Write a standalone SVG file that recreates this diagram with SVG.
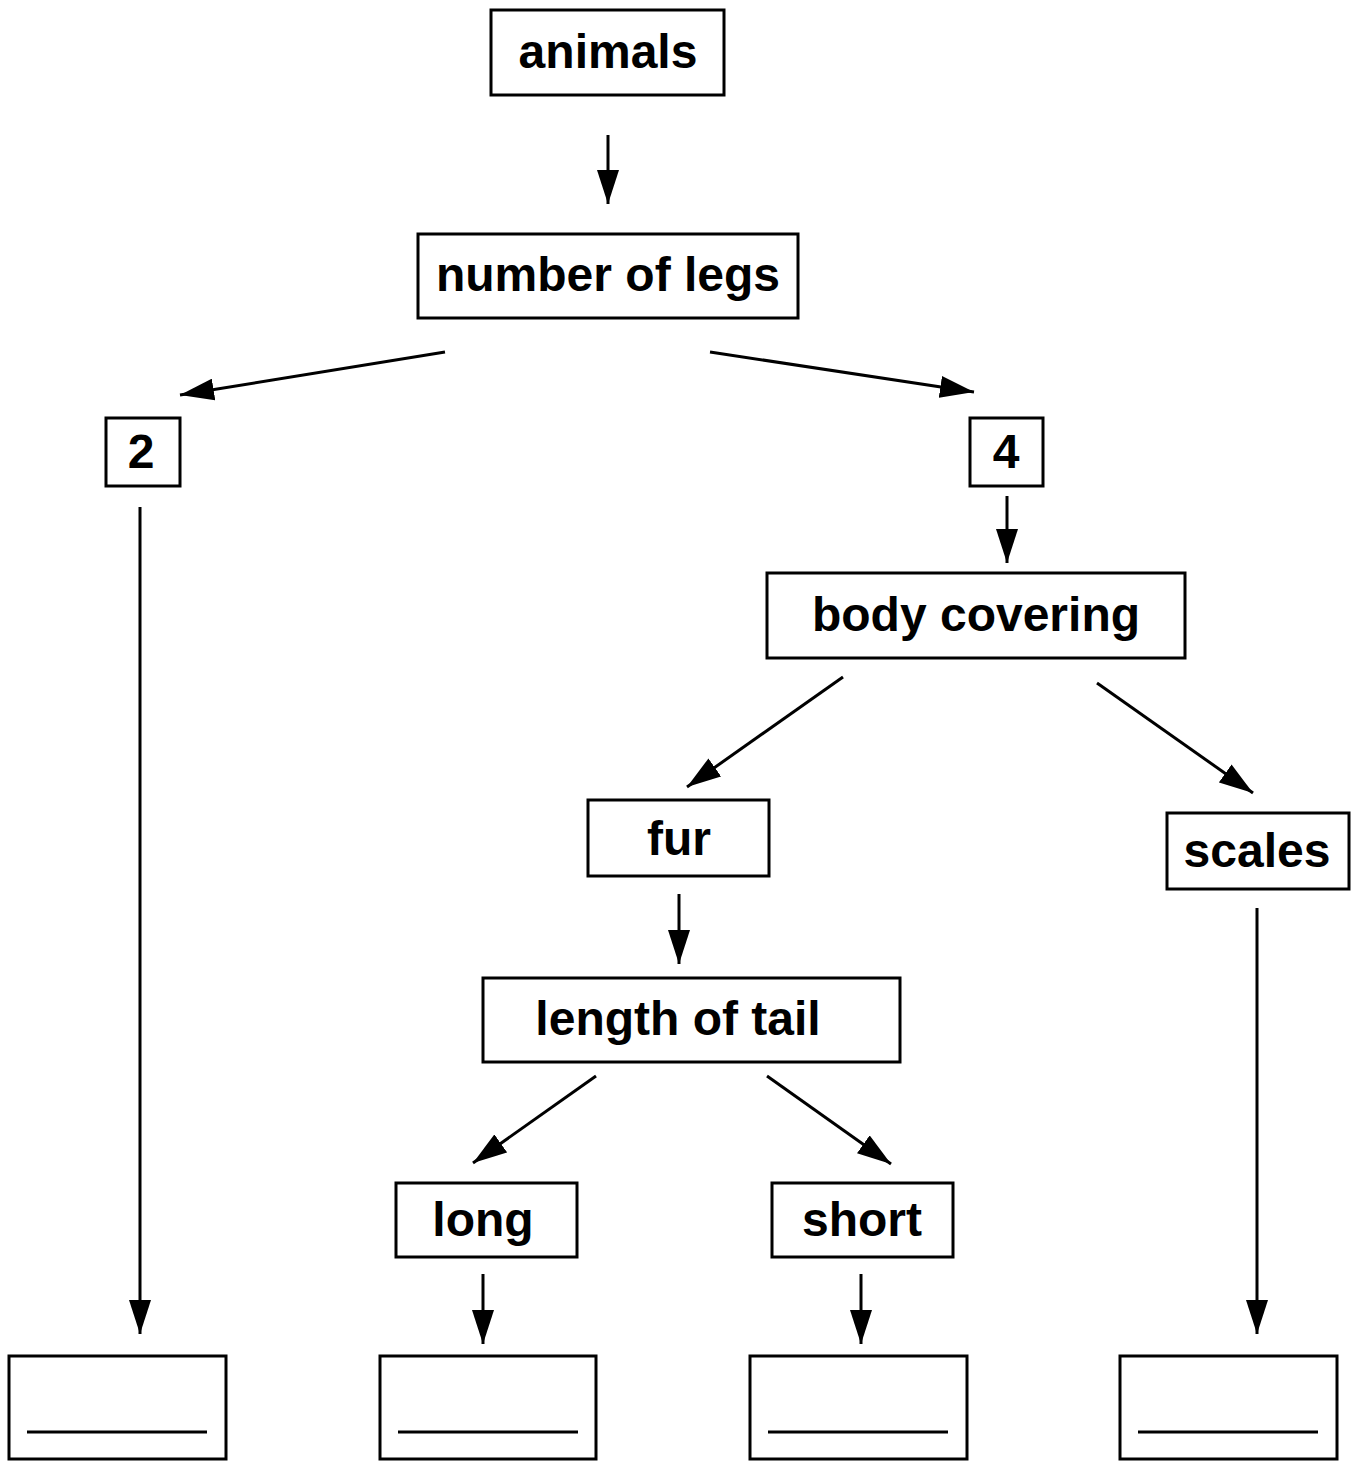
<svg xmlns="http://www.w3.org/2000/svg" width="1356" height="1461" viewBox="0 0 1356 1461">
<style>
.box{fill:#fff;stroke:#000;stroke-width:3}
.lbl{font-family:"Liberation Sans",Arial,sans-serif;font-weight:bold;font-size:48px;text-anchor:middle;fill:#000}
.con{stroke:#000;stroke-width:3;fill:none}
.blank{stroke:#000;stroke-width:3}
</style>
<defs>
<marker id="ah" markerUnits="userSpaceOnUse" viewBox="0 0 34 22" refX="34" refY="11" markerWidth="34" markerHeight="22" orient="auto">
<path d="M0,0 L34,11 L0,22 Z" fill="#000"/>
</marker>
</defs>
<rect width="1356" height="1461" fill="#fff"/>
<g id="connectors">
<line class="con" x1="608" y1="135" x2="608" y2="204" marker-end="url(#ah)"/>
<line class="con" x1="445" y1="352" x2="180" y2="395" marker-end="url(#ah)"/>
<line class="con" x1="710" y1="352" x2="974" y2="392" marker-end="url(#ah)"/>
<line class="con" x1="1007" y1="496" x2="1007" y2="563" marker-end="url(#ah)"/>
<line class="con" x1="843" y1="677" x2="687" y2="787" marker-end="url(#ah)"/>
<line class="con" x1="1097" y1="683" x2="1253" y2="793" marker-end="url(#ah)"/>
<line class="con" x1="679" y1="894" x2="679" y2="964" marker-end="url(#ah)"/>
<line class="con" x1="596" y1="1076" x2="473" y2="1163" marker-end="url(#ah)"/>
<line class="con" x1="767" y1="1076" x2="891" y2="1164" marker-end="url(#ah)"/>
<line class="con" x1="483" y1="1274" x2="483" y2="1344" marker-end="url(#ah)"/>
<line class="con" x1="861" y1="1274" x2="861" y2="1344" marker-end="url(#ah)"/>
<line class="con" x1="140" y1="507" x2="140" y2="1334" marker-end="url(#ah)"/>
<line class="con" x1="1257" y1="908" x2="1257" y2="1334" marker-end="url(#ah)"/>
</g>
<g id="n-animals"><rect class="box" x="491" y="10" width="233" height="85"/><text class="lbl" x="608" y="68">animals</text></g>
<g id="n-legs"><rect class="box" x="418" y="234" width="380" height="84"/><text class="lbl" x="608" y="291">number of legs</text></g>
<g id="n-2"><rect class="box" x="106" y="418" width="74" height="68"/><text class="lbl" x="141" y="468">2</text></g>
<g id="n-4"><rect class="box" x="970" y="418" width="73" height="68"/><text class="lbl" x="1006" y="468">4</text></g>
<g id="n-body"><rect class="box" x="767" y="573" width="418" height="85"/><text class="lbl" x="976" y="631">body covering</text></g>
<g id="n-fur"><rect class="box" x="588" y="800" width="181" height="76"/><text class="lbl" x="679" y="855">fur</text></g>
<g id="n-scales"><rect class="box" x="1167" y="813" width="182" height="76"/><text class="lbl" x="1257" y="867">scales</text></g>
<g id="n-tail"><rect class="box" x="483" y="978" width="417" height="84"/><text class="lbl" x="678" y="1035">length of tail</text></g>
<g id="n-long"><rect class="box" x="396" y="1183" width="181" height="74"/><text class="lbl" x="483" y="1236">long</text></g>
<g id="n-short"><rect class="box" x="772" y="1183" width="181" height="74"/><text class="lbl" x="862" y="1236">short</text></g>
<g id="n-blank1"><rect class="box" x="9" y="1356" width="217" height="103"/><line class="blank" x1="27" y1="1432" x2="207" y2="1432"/></g>
<g id="n-blank2"><rect class="box" x="380" y="1356" width="216" height="103"/><line class="blank" x1="398" y1="1432" x2="578" y2="1432"/></g>
<g id="n-blank3"><rect class="box" x="750" y="1356" width="217" height="103"/><line class="blank" x1="768" y1="1432" x2="948" y2="1432"/></g>
<g id="n-blank4"><rect class="box" x="1120" y="1356" width="217" height="103"/><line class="blank" x1="1138" y1="1432" x2="1318" y2="1432"/></g>
</svg>
